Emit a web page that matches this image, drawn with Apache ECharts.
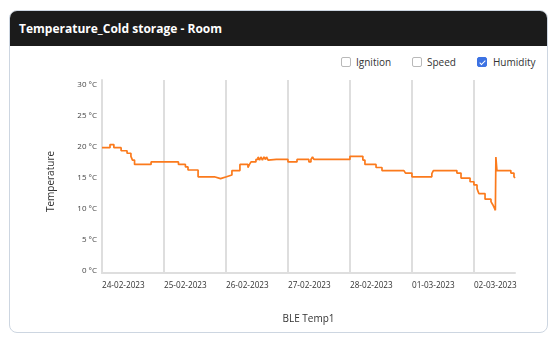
<!DOCTYPE html>
<html>
<head>
<meta charset="utf-8">
<script src="https://cdn.jsdelivr.net/npm/echarts@6/dist/echarts.min.js"></script>
<style>
  html, body { margin: 0; padding: 0; background: #ffffff; width: 558px; height: 344px; overflow: hidden; font-family: "Open Sans", sans-serif; }
  #card { position: absolute; left: 9px; top: 10px; width: 537px; height: 321px; border: 1px solid #cdd6e1; border-radius: 8px; overflow: hidden; background: #fff; }
  #head { height: 35px; background: #1b1b1b; color: #fff; font-weight: 700; font-size: 12px; line-height: 35px; padding-left: 9px; }
  .lg { position: absolute; top: 56px; font-size: 10px; color: #333; line-height: 12px; }
  .box { position: absolute; top: 1px; width: 8px; height: 8px; border: 1px solid #b9b9b9; border-radius: 2px; background: #fff; }
  .box.on { background: #3c72e3; border-color: #3c72e3; }
  .box.on::after { content: ""; position: absolute; left: 2.5px; top: 0.5px; width: 2px; height: 5px; border: solid #fff; border-width: 0 1.5px 1.5px 0; transform: rotate(45deg); }
  .lbl { position: absolute; white-space: nowrap; }
  #chart { position: absolute; left: 0; top: 0; width: 558px; height: 344px; }
</style>
</head>
<body>
<div id="card"><div id="head">Temperature_Cold storage - Room</div></div>
<div class="lg" style="left:341px"><span class="box"></span><span class="lbl" style="left:15px">Ignition</span></div>
<div class="lg" style="left:412px"><span class="box"></span><span class="lbl" style="left:15px">Speed</span></div>
<div class="lg" style="left:477px"><span class="box on"></span><span class="lbl" style="left:16px">Humidity</span></div>
<div id="chart"></div>
<script>
// Hours since 24-02-2023 00:00
const hours = [0.0, 3.1, 4.6, 7.4, 9.7, 11.2, 11.8, 12.6, 19.0, 29.6, 32.3, 33.3, 37.2, 43.5, 45.9, 48.2, 50.3,
  53.4, 56.5, 57.1, 57.7, 59.6, 60.4, 61.0, 61.5, 62.1, 62.7, 63.3, 63.7, 64.3, 65.0, 67.5, 67.9, 70.1, 70.5,
  72.0, 75.5, 80.1, 80.9, 81.5, 82.1, 96.0, 101.0, 101.8, 106.1, 108.4, 116.9, 117.5, 120.0, 127.7, 128.3,
  137.4, 139.0, 142.5, 144.0, 145.2, 145.9, 148.3, 150.6, 151.3, 151.9, 152.3, 152.5, 152.9, 158.3, 159.5, 159.9];
const temps = [19.9, 20.4, 19.9, 19.4, 19.0, 18.5, 17.9, 17.2, 17.6, 17.2, 16.8, 16.3, 15.2, 14.9, 15.2, 15.5, 16.2,
  17.2, 16.7, 17.2, 17.6, 18.0, 18.4, 17.9, 18.4, 17.9, 18.4, 18.0, 18.4, 17.9, 18.0, 17.7, 18.0, 17.7, 18.0,
  17.6, 18.0, 17.6, 18.0, 18.4, 18.0, 18.5, 17.9, 17.2, 16.7, 16.2, 16.5, 15.8, 15.2, 15.7, 16.2,
  15.8, 15.0, 14.4, 13.9, 13.3, 12.5, 11.6, 11.2, 10.7, 10.2, 9.8, 18.4, 16.2, 15.8, 15.2, 15.0];
const dayLabels = ['24-02-2023', '25-02-2023', '26-02-2023', '27-02-2023', '28-02-2023', '01-03-2023', '02-03-2023'];
const yTicks = [0, 5, 10, 15, 20, 25, 30];
const seriesName = 'BLE Temp1';

const chart = echarts.init(document.getElementById('chart'), null, { renderer: 'canvas' });
const data = hours.map((h, i) => [h, temps[i]]);
const font = '"Open Sans", sans-serif';
chart.setOption({
  animation: false,
  textStyle: { fontFamily: font },
  grid: { left: 102, top: 80, width: 413, height: 193, containLabel: false },
  xAxis: {
    type: 'value', min: 0, max: hours[hours.length - 1], interval: 24,
    name: seriesName, nameLocation: 'middle', nameGap: 41,
    nameTextStyle: { fontSize: 10, color: '#333', fontFamily: font },
    axisLine: { onZero: false, lineStyle: { color: '#dedede', width: 2 } },
    axisTick: { show: false },
    splitLine: { show: true, showMaxLine: false, lineStyle: { color: '#dedede', width: 2 } },
    axisLabel: { align: 'left', margin: 9, fontSize: 8.2, color: '#333', fontFamily: font, showMaxLabel: false,
      formatter: v => dayLabels[Math.round(v / 24)] || '' }
  },
  yAxis: {
    type: 'value', min: -0.3, max: 30.8,
    name: 'Temperature', nameLocation: 'middle', nameGap: 46,
    nameTextStyle: { fontSize: 10, color: '#333', fontFamily: font, padding: [0, 10, 0, 0] },
    axisLine: { show: true, lineStyle: { color: '#dedede', width: 2 } },
    axisTick: { show: false },
    splitLine: { show: false },
    axisLabel: { customValues: yTicks, margin: 5, fontSize: 8, color: '#444', fontFamily: font,
      formatter: v => v + ' °C' }
  },
  series: [{
    name: seriesName, type: 'line', step: 'end', data: data, showSymbol: false,
    lineStyle: { color: '#fb7a1c', width: 1.7 }, itemStyle: { color: '#fb7a1c' }
  }]
});
</script>
</body>
</html>
